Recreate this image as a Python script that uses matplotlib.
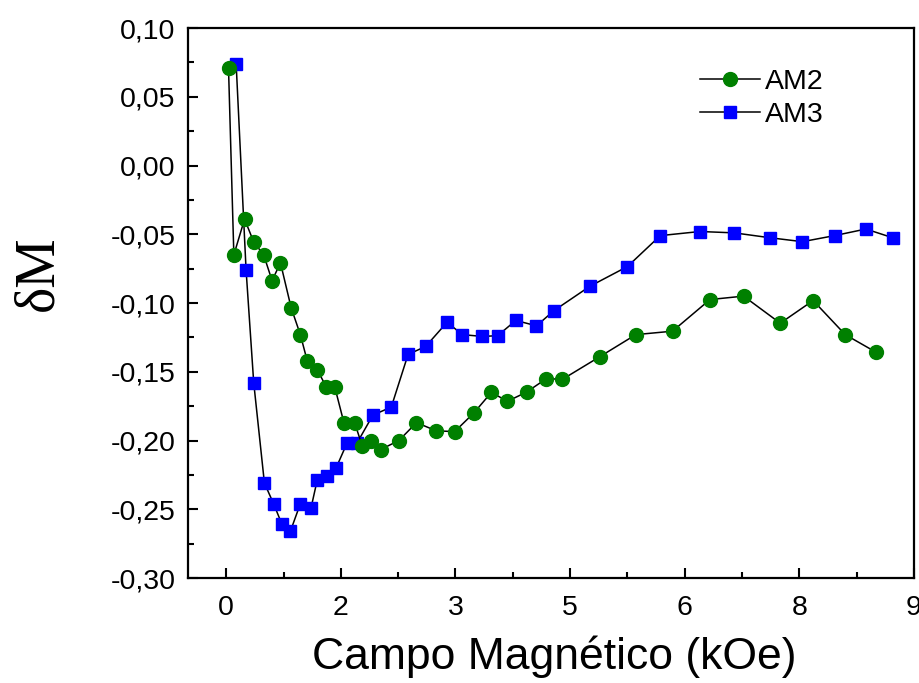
import math
import matplotlib
matplotlib.use("Agg")
import matplotlib.pyplot as plt
from matplotlib.ticker import MultipleLocator, FuncFormatter

# Field values (kOe) and magnetization deviation for each sample
am2_field = [0.03, 0.10, 0.24, 0.36, 0.49, 0.60, 0.71, 0.85, 0.97, 1.06, 1.19,
             1.31, 1.42, 1.54, 1.68, 1.78, 1.89, 2.02, 2.26, 2.49, 2.75, 2.99,
             3.24, 3.47, 3.68, 3.93, 4.19, 4.40, 4.89, 5.36, 5.84, 6.33, 6.77,
             7.25, 7.68, 8.10, 8.50]
am2_dm = [0.071, -0.065, -0.039, -0.0556, -0.065, -0.0837, -0.0708, -0.1035,
          -0.123, -0.142, -0.1485, -0.161, -0.161, -0.187, -0.187, -0.204,
          -0.200, -0.2066, -0.200, -0.187, -0.193, -0.1935, -0.180, -0.165,
          -0.1715, -0.1648, -0.155, -0.1555, -0.139, -0.123, -0.1205, -0.0975,
          -0.095, -0.1147, -0.0982, -0.123, -0.1357]

am3_field = [0.13, 0.26, 0.36, 0.50, 0.62, 0.73, 0.84, 0.97, 1.11, 1.19, 1.32,
             1.44, 1.58, 1.71, 1.92, 2.16, 2.38, 2.61, 2.89, 3.09, 3.35, 3.55,
             3.79, 4.06, 4.29, 4.76, 5.25, 5.68, 6.20, 6.65, 7.11, 7.54, 7.96,
             8.37, 8.73]
am3_dm = [0.074, -0.076, -0.158, -0.231, -0.246, -0.261, -0.266, -0.246,
          -0.249, -0.229, -0.2255, -0.2197, -0.202, -0.202, -0.1815, -0.1757,
          -0.1374, -0.1316, -0.114, -0.123, -0.1243, -0.1238, -0.1127, -0.1166,
          -0.1055, -0.0878, -0.0735, -0.051, -0.048, -0.049, -0.0525, -0.0554,
          -0.051, -0.0462, -0.0527]

labels = ["AM2", "AM3"]

plt.rcParams["font.family"] = ["Liberation Sans", "DejaVu Sans"]

fig = plt.figure(figsize=(9.2, 6.83), dpi=100)
ax = fig.add_axes([188 / 920, 105 / 683, 726 / 920, 550 / 683])

h3, = ax.plot(am3_field, am3_dm, color="black", lw=1.1, marker="s", ms=9,
              mfc="#0000ff", mec="#0000ff", label=labels[1], zorder=2)
h2, = ax.plot(am2_field, am2_dm, color="black", lw=1.1, marker="o", ms=10,
              mfc="#008000", mec="#008000", label=labels[0], zorder=3)

ax.set_xlim(-0.5, 9.0)
ax.set_ylim(-0.30, 0.10)

ax.xaxis.set_major_locator(MultipleLocator(1.5))
ax.xaxis.set_minor_locator(MultipleLocator(0.75))
ax.yaxis.set_major_locator(MultipleLocator(0.05))
ax.yaxis.set_minor_locator(MultipleLocator(0.025))

ax.xaxis.set_major_formatter(FuncFormatter(lambda v, p: f"{int(math.floor(v + 0.5))}"))
ax.yaxis.set_major_formatter(FuncFormatter(lambda v, p: f"{v:.2f}".replace(".", ",").replace("-0,00", "0,00")))

ax.tick_params(which="both", direction="in", top=False, right=False, width=1.5)
ax.tick_params(which="major", length=7)
ax.tick_params(which="minor", length=4)
ax.tick_params(axis="x", which="major", labelsize=20.5, pad=12)
ax.tick_params(axis="y", which="major", labelsize=20.5, pad=9)

for s in ax.spines.values():
    s.set_linewidth(1.6)

fig.text(554 / 920, 14 / 683, "Campo Magnético (kOe)", fontsize=32,
         ha="center", va="baseline")
fig.text(38 / 920, 1 - 273 / 683, "δM", fontsize=40, rotation=90,
         family=["Liberation Serif", "DejaVu Serif"], ha="center", va="center")

ax.legend(handles=[h2, h3], loc="upper left", bbox_to_anchor=(0.705, 0.925),
          frameon=False, fontsize=20.5, handlelength=2.1, handletextpad=0.2,
          labelspacing=0.22, borderpad=0, borderaxespad=0, numpoints=1)

fig.savefig("out.png", dpi=100)
